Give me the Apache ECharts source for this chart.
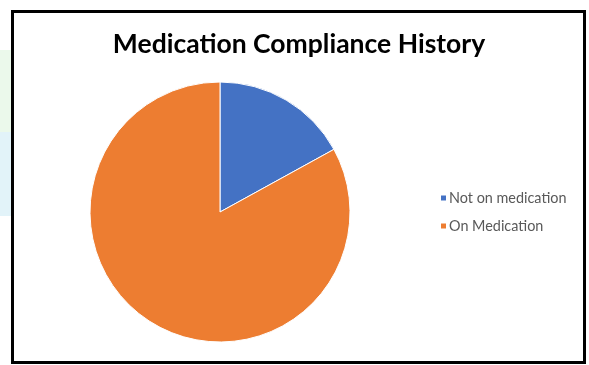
<!DOCTYPE html>
<html><head><meta charset="utf-8">
<script src="https://cdn.jsdelivr.net/npm/echarts@6/dist/echarts.min.js"></script>
<style>html,body{margin:0;padding:0;background:#fff}#c{width:589px;height:365px}</style>
</head><body><div id="c"></div>
<script>
const titleText = 'Medication Compliance History';
const categories = ['Not on medication', 'On Medication'];
const values = [17, 83];
const colors = ['#4472C4', '#ED7D31'];

const chart = echarts.init(document.getElementById('c'), null, {renderer: 'canvas'});
chart.setOption({
  backgroundColor: '#fff',
  animation: false,
  graphic: [
    {type: 'rect', shape: {x: 0, y: 50, width: 11, height: 82}, style: {fill: '#ebf9eb'}, z: -10},
    {type: 'rect', shape: {x: 0, y: 132, width: 11, height: 84}, style: {fill: '#e2f3f9'}, z: -10},
    {type: 'rect', shape: {x: 12.5, y: 11.5, width: 572, height: 351}, style: {fill: 'none', stroke: '#000', lineWidth: 3}, z: 10}
  ],
  title: {
    text: titleText, left: 294, top: 26, textAlign: 'center',
    textStyle: {fontFamily: 'Lato', fontWeight: 'bold', fontSize: 26.5, color: '#000'}
  },
  legend: {
    orient: 'vertical', left: 434, top: 186, itemGap: 14,
    itemWidth: 7, itemHeight: 7, icon: 'rect',
    textStyle: {fontFamily: 'Lato', fontSize: 14.4, color: '#595959', padding: [0,0,0,-3]},
    data: categories
  },
  series: [{
    type: 'pie', center: [220, 212], radius: 130, startAngle: 90, clockwise: true,
    label: {show: false}, labelLine: {show: false},
    itemStyle: {borderColor: '#fff', borderWidth: 1},
    data: categories.map((n, i) => ({name: n, value: values[i], itemStyle: {color: colors[i]}}))
  }]
});
</script></body></html>
